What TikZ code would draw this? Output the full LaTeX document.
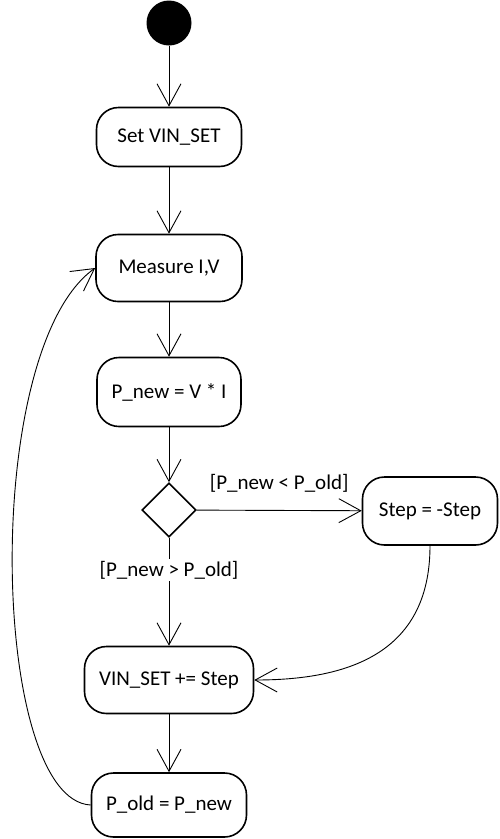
\documentclass[tikz,border=0pt]{standalone}
\usepackage{fontspec}
\setmainfont{Carlito}
\usepackage{tikz}
\usetikzlibrary{arrows.meta,shapes.geometric}

\begin{document}
\begin{tikzpicture}[x=1pt,y=-1pt,
  act/.style n args={2}{rectangle,draw,line width=1.6pt,rounded corners=22pt,minimum width=#1pt,minimum height=#2pt,font=\fontsize{21}{25}\selectfont},
  flow/.style={-{Straight Barb[length=22pt,width=24pt]},line width=0.9pt},
  grd/.style={font=\fontsize{21}{25}\selectfont,inner sep=2pt}]
\useasboundingbox (0,0) rectangle (499,839);
\node[circle,fill=black,minimum size=45pt,inner sep=0pt](init) at(169,23) {};
\node[act={145}{59}](setv) at(169,137) {Set VIN\_SET};
\node[act={146}{67}](meas) at(169,268) {Measure I,V};
\node[act={144}{69}](pnew) at(169,392) {P\_new = V * I};
\node[diamond,draw,line width=1.6pt,aspect=1,minimum size=54pt,inner sep=0pt](dec) at(169,510) {};
\node[act={135}{68}](neg) at(430,511) {Step = -Step};
\node[act={169}{67}](vin) at(169,680) {VIN\_SET += Step};
\node[act={155}{64}](pold) at(169,805) {P\_old = P\_new};
\foreach \a/\b in {init/setv,setv/meas,meas/pnew,pnew/dec,vin/pold} {
   \draw[flow] (\a) -- (\b);
}
\draw[flow] (dec) -- node[grd,above=16pt]{[P\_new < P\_old]} (neg);
\draw[flow] (dec) -- node[grd,fill=white,pos=0.3]{[P\_new > P\_old]} (vin);
\draw[flow] (neg.south) .. controls +(0,110) and +(90,0) .. (vin.east);
\draw[flow] (pold.west) .. controls +(-100,-5) and +(-115,82) .. (meas.west);
\end{tikzpicture}
\end{document}
